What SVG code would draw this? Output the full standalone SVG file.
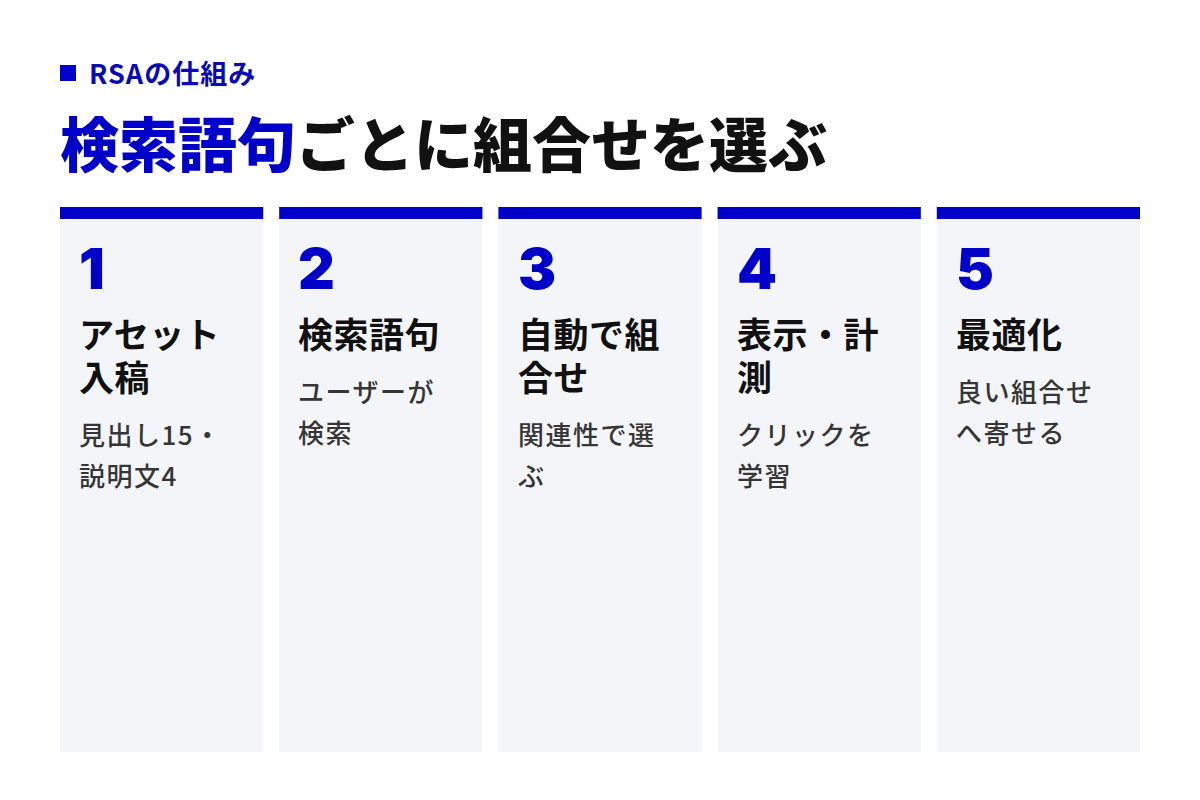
<svg xmlns="http://www.w3.org/2000/svg" width="1200" height="800" viewBox="0 0 1200 800">
<style>
.jp{font-family:"Noto Sans CJK JP","Noto Sans",sans-serif}
.sub{font-size:27px;font-weight:700;fill:#0a0ab4;letter-spacing:1px}
.h1{font-size:59px;font-weight:900;fill:#111}
.blue{fill:#0000c8}
.bar{fill:#0000c8}
.card{fill:#f4f5f9}
.num{font-family:Inter,"Liberation Sans",sans-serif;font-size:57px;font-weight:900;fill:#0000c8}
.ttl{font-size:35px;font-weight:700;fill:#111;letter-spacing:0.5px}
.dsc{font-size:26px;font-weight:500;fill:#363636;letter-spacing:1.5px}
</style>
<rect width="1200" height="800" fill="#ffffff"/>
<g id="header">
<rect x="60" y="65" width="16" height="16" class="bar"/>
<text x="89" y="84" class="jp sub">RSAの仕組み</text>
<text x="60" y="167" class="jp h1"><tspan class="blue">検索語句</tspan>ごとに組合せを選ぶ</text>
</g>
<g id="connectors"></g>
<g id="step1">
<rect x="60" y="207" width="203.2" height="545" class="card"/>
<rect x="60" y="207" width="203.2" height="12" class="bar"/>
<text x="79" y="289" class="num">1</text>
<text x="79" y="348" class="jp ttl">アセット</text>
<text x="79" y="391" class="jp ttl">入稿</text>
<text x="79" y="445" class="jp dsc">見出し15・</text>
<text x="79" y="486" class="jp dsc">説明文4</text>
</g>
<g id="step2">
<rect x="279.2" y="207" width="203.2" height="545" class="card"/>
<rect x="279.2" y="207" width="203.2" height="12" class="bar"/>
<text x="298" y="289" class="num">2</text>
<text x="298" y="348" class="jp ttl">検索語句</text>
<text x="298" y="402" class="jp dsc">ユーザーが</text>
<text x="298" y="443" class="jp dsc">検索</text>
</g>
<g id="step3">
<rect x="498.4" y="207" width="203.2" height="545" class="card"/>
<rect x="498.4" y="207" width="203.2" height="12" class="bar"/>
<text x="518" y="289" class="num">3</text>
<text x="518" y="348" class="jp ttl">自動で組</text>
<text x="518" y="391" class="jp ttl">合せ</text>
<text x="518" y="445" class="jp dsc">関連性で選</text>
<text x="518" y="486" class="jp dsc">ぶ</text>
</g>
<g id="step4">
<rect x="717.6" y="207" width="203.2" height="545" class="card"/>
<rect x="717.6" y="207" width="203.2" height="12" class="bar"/>
<text x="737" y="289" class="num">4</text>
<text x="737" y="348" class="jp ttl">表示・計</text>
<text x="737" y="391" class="jp ttl">測</text>
<text x="737" y="445" class="jp dsc">クリックを</text>
<text x="737" y="486" class="jp dsc">学習</text>
</g>
<g id="step5">
<rect x="936.8" y="207" width="203.2" height="545" class="card"/>
<rect x="936.8" y="207" width="203.2" height="12" class="bar"/>
<text x="956" y="289" class="num">5</text>
<text x="956" y="348" class="jp ttl">最適化</text>
<text x="956" y="402" class="jp dsc">良い組合せ</text>
<text x="956" y="443" class="jp dsc">へ寄せる</text>
</g>
</svg>
